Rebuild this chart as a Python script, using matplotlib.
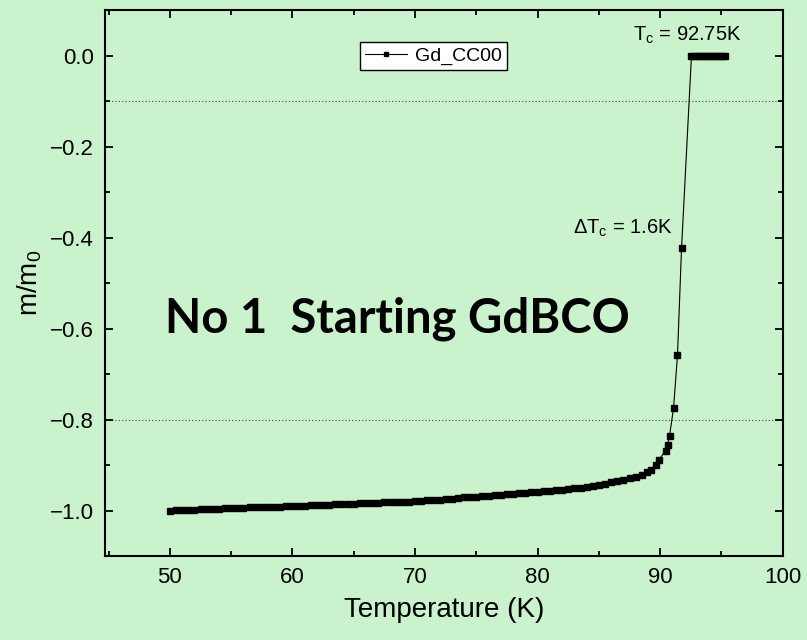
import matplotlib
matplotlib.use("Agg")
import matplotlib.pyplot as plt
from matplotlib.ticker import MultipleLocator, FuncFormatter

# data (temperature in K, normalised moment)
temp_low = [50.0, 50.5, 51.0, 51.5, 52.0, 52.5, 53.0, 53.5, 54.0, 54.5,
            55.0, 55.5, 56.0, 56.5, 57.0, 57.5, 58.0, 58.5, 59.0, 59.5,
            60.0, 60.5, 61.0, 61.5, 62.0, 62.5, 63.0, 63.5, 64.0, 64.5,
            65.0, 65.5, 66.0, 66.5, 67.0, 67.5, 68.0, 68.5, 69.0, 69.5,
            70.0, 70.5, 71.0, 71.5, 72.0, 72.5, 73.0, 73.5, 74.0, 74.5,
            75.0, 75.5, 76.0, 76.5, 77.0, 77.5, 78.0, 78.5, 79.0, 79.5,
            80.0, 80.5, 81.0, 81.5, 82.0, 82.5, 83.0, 83.5, 84.0, 84.5,
            85.0, 85.5, 86.0, 86.5, 87.0, 87.5, 88.0, 88.5]
m_low = [-1.000, -0.999, -0.999, -0.998, -0.998, -0.997, -0.997, -0.996, -0.996, -0.995,
         -0.995, -0.994, -0.994, -0.993, -0.993, -0.992, -0.992, -0.991, -0.991, -0.990,
         -0.990, -0.989, -0.989, -0.988, -0.988, -0.987, -0.987, -0.986, -0.986, -0.985,
         -0.985, -0.984, -0.984, -0.983, -0.983, -0.982, -0.982, -0.981, -0.981, -0.980,
         -0.979, -0.978, -0.977, -0.976, -0.976, -0.975, -0.974, -0.972, -0.971, -0.970,
         -0.969, -0.968, -0.967, -0.966, -0.965, -0.964, -0.963, -0.962, -0.961, -0.959,
         -0.958, -0.957, -0.956, -0.955, -0.954, -0.953, -0.951, -0.950, -0.948, -0.946,
         -0.943, -0.941, -0.938, -0.935, -0.932, -0.929, -0.926, -0.921]

temp_trans = [88.9, 89.27, 89.62, 89.87, 90.44, 90.60, 90.76, 91.09, 91.41, 91.74]
m_trans = [-0.915, -0.910, -0.899, -0.889, -0.868, -0.856, -0.836, -0.774, -0.658, -0.423]

temp_high = [92.55, 92.8, 93.05, 93.3, 93.55, 93.8, 94.05, 94.3, 94.55, 94.8, 95.05, 95.3]
m_high = [0.0, 0.0, 0.0, 0.0, 0.0, 0.0, 0.0, 0.0, 0.0, 0.0, 0.0, 0.0]

temps = temp_low + temp_trans + temp_high
moments = m_low + m_trans + m_high

guide_levels = [-0.1, -0.8]

plt.rcParams['font.family'] = ['Liberation Sans', 'DejaVu Sans']
plt.rcParams['mathtext.fontset'] = 'custom'
plt.rcParams['mathtext.rm'] = 'Liberation Sans'
plt.rcParams['mathtext.it'] = 'Liberation Sans:italic'

bg = '#CAF2CC'
fig = plt.figure(figsize=(8.07, 6.4), dpi=100, facecolor=bg)
ax = fig.add_axes([0.130, 0.131, 0.840, 0.853], facecolor=bg)

for lvl in guide_levels:
    ax.axhline(lvl, color='#444444', linestyle=(0, (1, 2)), linewidth=0.8, zorder=1)

ax.plot(temps, moments, color='black', linewidth=0.8, marker='s',
        markersize=4.3, label='Gd_CC00', zorder=3)

ax.set_xlim(44.7, 100)
ax.set_ylim(-1.1, 0.1)
ax.xaxis.set_major_locator(MultipleLocator(10))
ax.xaxis.set_minor_locator(MultipleLocator(5))
ax.yaxis.set_major_locator(MultipleLocator(0.2))
ax.yaxis.set_minor_locator(MultipleLocator(0.1))
ax.yaxis.set_major_formatter(FuncFormatter(lambda v, p: f'{v:.1f}'.replace('-', '\u2212')))

ax.tick_params(which='both', direction='in', top=True, right=True, width=1.3)
ax.tick_params(which='major', length=6, labelsize=16, pad=8)
ax.tick_params(which='minor', length=3.5)
for s in ax.spines.values():
    s.set_linewidth(1.5)

ax.set_xlabel('Temperature (K)', fontsize=20, labelpad=6)
ax.set_ylabel(r'$\mathregular{m/m_0}$', fontsize=20, labelpad=4)

ax.text(87.8, 0.034, r'$\mathregular{T_c}$ = 92.75K', fontsize=14.5, va='baseline')
ax.text(82.9, -0.391, r'$\mathregular{\Delta T_c}$ = 1.6K', fontsize=14.5, va='baseline')
ax.text(49.6, -0.609, 'No 1  Starting GdBCO', fontsize=34, fontweight='bold',
        family='Lato', va='baseline')

leg = ax.legend(loc='upper left', bbox_to_anchor=(0.376, 0.941), borderaxespad=0,
                fontsize=14, frameon=True, fancybox=False, handlelength=2.2,
                borderpad=0.25, handletextpad=0.4, markerscale=0.75)
leg.get_frame().set_edgecolor('black')
leg.get_frame().set_linewidth(1.0)
leg.get_frame().set_facecolor('white')
leg.get_frame().set_alpha(1)

fig.savefig('out.png', dpi=100, facecolor=bg)
